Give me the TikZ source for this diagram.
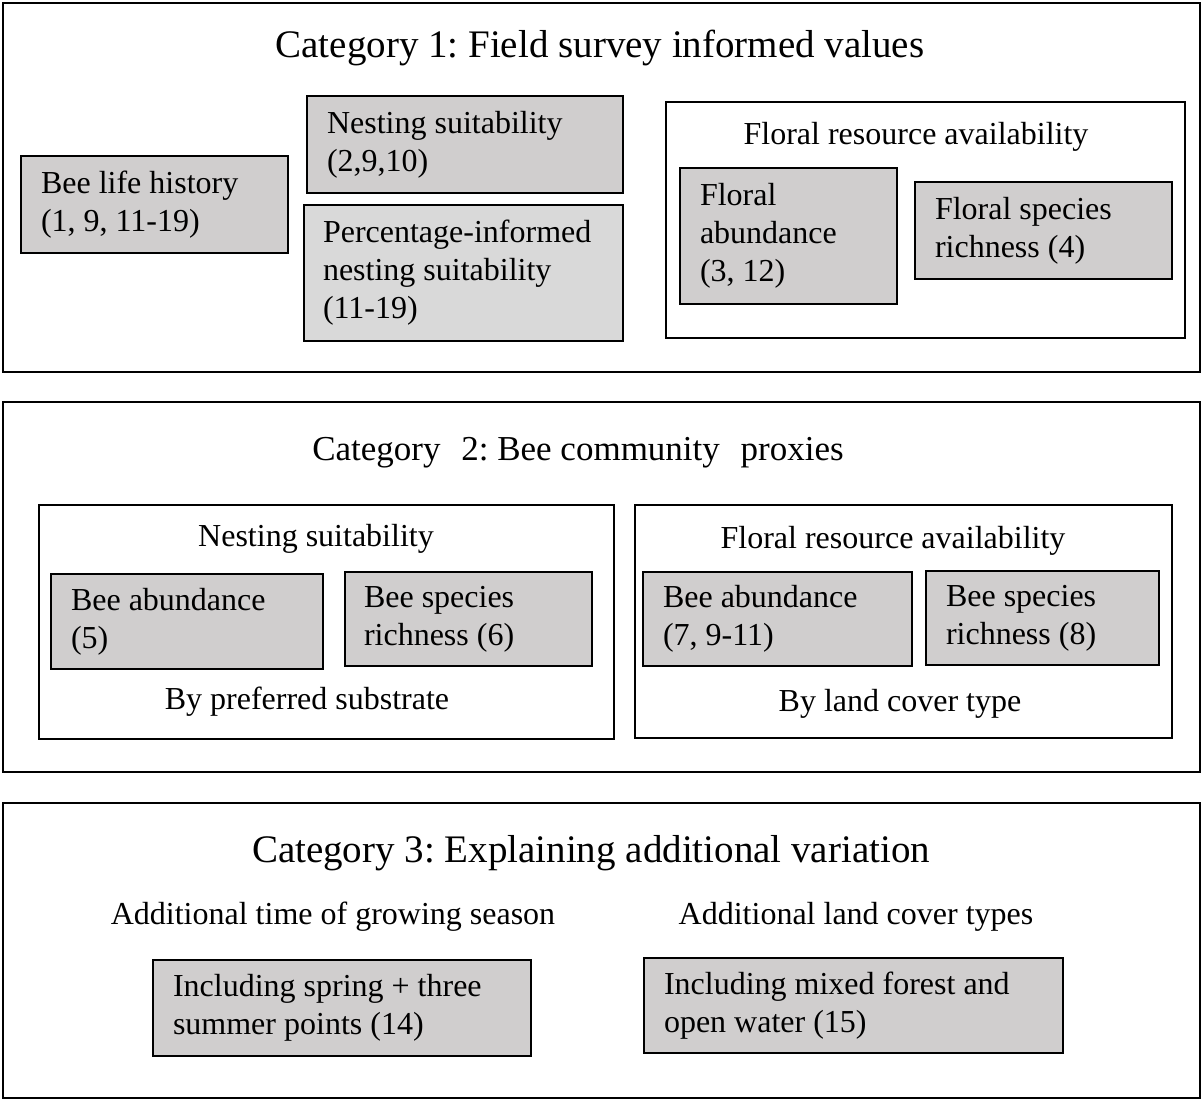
\documentclass[tikz,border=0pt]{standalone}
\usepackage{fontspec}
\setmainfont{Liberation Serif}
\definecolor{boxgray}{RGB}{208,206,206}
\definecolor{boxlight}{RGB}{217,217,217}
\frenchspacing
\begin{document}
\frenchspacing
\begin{tikzpicture}[x=1pt,y=-1pt,
  frame/.style={draw, line width=2pt, anchor=north west, inner sep=0pt},
  gbox/.style={draw, line width=2pt, fill=boxgray, anchor=north west, align=flush left, inner xsep=20pt, inner ysep=0pt, font=\fontsize{32}{38}\selectfont},
  lbl/.style={font=\fontsize{32}{38}\selectfont, inner sep=0pt},
  ttl/.style={font=\fontsize{39}{44}\selectfont, inner sep=0pt}]
\useasboundingbox (0,0) rectangle (1201,1099);
% Category 1
\node[frame, minimum width=1197pt, minimum height=369pt] (c1) at (2,2) {};
\node[ttl] (t1) at (600,48) {Category 1: Field survey informed values};
\node[gbox, minimum width=267pt, minimum height=97pt, text width=227pt] (blh) at (20,155) {Bee life history\\(1, 9, 11-19)};
\node[gbox, minimum width=316pt, minimum height=97pt, text width=276pt] (ns1) at (306,95) {Nesting suitability\\(2,9,10)};
\node[gbox, fill=boxlight, inner xsep=19pt, minimum width=319pt, minimum height=136pt, text width=281pt] (pns) at (303,204) {Percentage-informed\\nesting suitability\\(11-19)};
\node[frame, minimum width=519pt, minimum height=236pt] (fra1) at (665,101) {};
\node[lbl] (fral1) at (916,137) {Floral resource availability};
\node[gbox, minimum width=217pt, minimum height=136pt, text width=177pt] (fa) at (679,167) {Floral\\abundance\\(3, 12)};
\node[gbox, minimum width=257pt, minimum height=97pt, text width=217pt] (fsr) at (914,181) {Floral species\\richness (4)};
% Category 2
\node[frame, minimum width=1197pt, minimum height=370pt] (c2) at (2,401) {};
\node[ttl, font=\fontsize{35}{40}\selectfont] (t2) at (578,453) {Category\hspace{12pt} 2: Bee community\hspace{12pt} proxies};
\node[frame, minimum width=575pt, minimum height=234pt] (ns2) at (38,504) {};
\node[lbl] (ns2l) at (316,539) {Nesting suitability};
\node[gbox, minimum width=272pt, minimum height=95pt, text width=232pt] (ba5) at (50,573) {Bee abundance\\(5)};
\node[gbox, inner xsep=19pt, minimum width=247pt, minimum height=94pt, text width=209pt] (bs6) at (344,571) {Bee species\\richness (6)};
\node[lbl] (ps) at (307,702) {By preferred substrate};
\node[frame, minimum width=537pt, minimum height=233pt] (fr2) at (634,504) {};
\node[lbl] (fr2l) at (893,541) {Floral resource availability};
\node[gbox, minimum width=269pt, minimum height=94pt, text width=229pt] (ba7) at (642,571) {Bee abundance\\(7, 9-11)};
\node[gbox, minimum width=233pt, minimum height=94pt, text width=193pt] (bs8) at (925,570) {Bee species\\richness (8)};
\node[lbl] (lc) at (900,704) {By land cover type};
% Category 3
\node[frame, minimum width=1197pt, minimum height=295pt] (c3) at (2,802) {};
\node[ttl] (t3) at (591,853) {Category 3: Explaining additional variation};
\node[lbl] (gs) at (333,917) {Additional time of growing season};
\node[lbl] (lct) at (856,917) {Additional land cover types};
\node[gbox, minimum width=378pt, minimum height=96pt, text width=338pt] (b14) at (152,959) {Including spring + three\\summer points (14)};
\node[gbox, minimum width=419pt, minimum height=95pt, text width=379pt] (b15) at (643,957) {Including mixed forest and\\open water (15)};
\end{tikzpicture}
\end{document}
